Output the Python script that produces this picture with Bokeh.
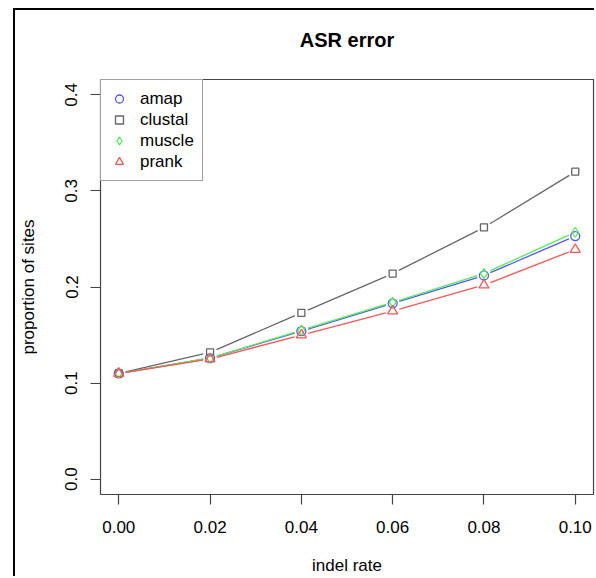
import math
from bokeh.plotting import figure
from bokeh.models import Range1d, Legend, LegendItem, FixedTicker, Title
from bokeh.embed import file_html
from bokeh.resources import INLINE

# ---- data ----
indel_rate = [0.00, 0.02, 0.04, 0.06, 0.08, 0.10]
amap = [0.110, 0.126, 0.154, 0.183, 0.212, 0.253]
clustal = [0.110, 0.132, 0.173, 0.214, 0.262, 0.320]
muscle = [0.110, 0.126, 0.155, 0.184, 0.214, 0.257]
prank = [0.110, 0.125, 0.150, 0.175, 0.202, 0.239]

series_names = ["amap", "clustal", "muscle", "prank"]
series_values = [amap, clustal, muscle, prank]
series_colors = ["#5555ff", "#666666", "#55ee55", "#ff5555"]
series_markers = ["circle", "square", "diamond", "triangle"]
series_sizes = [9, 7, 10, 10]

x_ticks = [0.00, 0.02, 0.04, 0.06, 0.08, 0.10]
y_ticks = [0.0, 0.1, 0.2, 0.3, 0.4]

FONT = "Liberation Sans"

XR = (-0.004, 0.104)
YR = (-0.016, 0.416)
FW, FH = 494, 415

p = figure(width=581, height=568, output_backend="svg", toolbar_location=None,
           x_range=Range1d(*XR), y_range=Range1d(*YR),
           min_border_left=84, min_border_right=3, min_border_top=69, min_border_bottom=84,
           styles={"box-shadow": "-2px -2px 0px 0px black"})
p.margin = (10, 0, 0, 15)

p.title = Title(text="ASR error\n ", align="center", text_font=FONT,
                text_font_size="20px", text_font_style="bold", text_color="black",
                offset=0, standoff=14)

p.grid.visible = False
p.outline_line_color = "#444444"
p.outline_line_width = 1.2
p.background_fill_color = "white"
p.border_fill_color = "white"

for ax in (p.xaxis[0], p.yaxis[0]):
    ax.axis_line_color = None
    ax.major_tick_in = 0
    ax.major_tick_out = 10
    ax.major_tick_line_color = "#444444"
    ax.major_tick_line_width = 1.2
    ax.minor_tick_line_color = None
    ax.major_label_text_font = FONT
    ax.major_label_text_font_size = "17px"
    ax.major_label_text_color = "black"
    ax.axis_label_text_font = FONT
    ax.axis_label_text_font_size = "17px"
    ax.axis_label_text_font_style = "normal"
    ax.axis_label_text_color = "black"

p.xaxis[0].ticker = FixedTicker(ticks=x_ticks)
p.xaxis[0].major_label_overrides = {t: f"{t:.2f}" for t in x_ticks}
p.xaxis[0].axis_label = "indel rate"
p.xaxis[0].major_label_standoff = 16
p.xaxis[0].axis_label_standoff = 20

p.yaxis[0].ticker = FixedTicker(ticks=y_ticks)
p.yaxis[0].major_label_overrides = {t: f"{t:.1f}" for t in y_ticks}
p.yaxis[0].major_label_orientation = "parallel"
p.yaxis[0].axis_label = "proportion of sites"
p.yaxis[0].major_label_standoff = 13
p.yaxis[0].axis_label_standoff = 25

# R type="b": lines with gaps around points
sx = FW / (XR[1] - XR[0])
sy = FH / (YR[1] - YR[0])
GAP = 7.0

items = []
for name, vals, col, mk, sz in zip(series_names, series_values, series_colors,
                                   series_markers, series_sizes):
    x0s, y0s, x1s, y1s = [], [], [], []
    for i in range(len(indel_rate) - 1):
        xa, ya, xb, yb = indel_rate[i], vals[i], indel_rate[i + 1], vals[i + 1]
        L = math.hypot((xb - xa) * sx, (yb - ya) * sy)
        f = GAP / L
        x0s.append(xa + f * (xb - xa)); y0s.append(ya + f * (yb - ya))
        x1s.append(xb - f * (xb - xa)); y1s.append(yb - f * (yb - ya))
    p.segment(x0s, y0s, x1s, y1s, line_color=col, line_width=1.3)
    r = p.scatter(indel_rate, vals, marker=mk, size=sz, fill_color=None,
                  line_color=col, line_width=1.3)
    items.append(LegendItem(label=name, renderers=[r]))

legend = Legend(items=items, location="top_left", margin=0, padding=8,
                spacing=0, label_height=21, glyph_height=21, glyph_width=20,
                label_standoff=11, border_line_color="#444444", border_line_width=1.2,
                label_text_font=FONT, label_text_font_size="17px",
                label_text_color="black", background_fill_alpha=1.0)
p.add_layout(legend)

open("out.html", "w").write(file_html(p, INLINE))
